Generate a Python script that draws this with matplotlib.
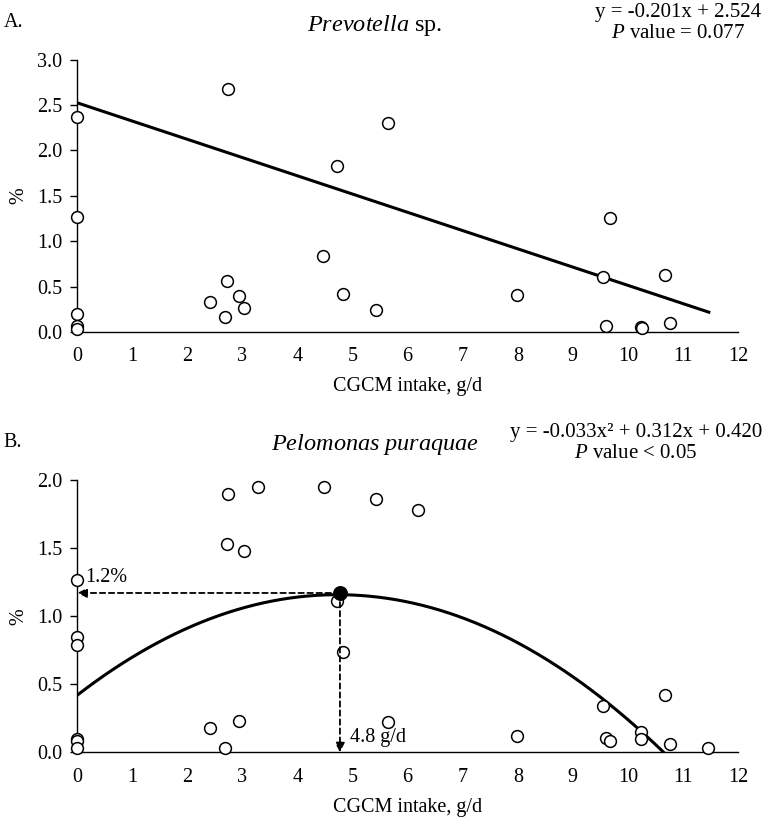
import numpy as np
import matplotlib.pyplot as plt

plt.rcParams["font.family"] = ["Liberation Serif", "DejaVu Serif"]
plt.rcParams["mathtext.fontset"] = "custom"
plt.rcParams["mathtext.rm"] = "Liberation Serif"
plt.rcParams["mathtext.it"] = "Liberation Serif:italic"

# Panel A: Prevotella sp.
prev_x = [0, 0, 0, 0, 0, 2.41, 2.71, 2.69, 2.93, 3.02, 2.73, 4.47, 4.72,
          4.82, 5.42, 5.64, 7.99, 9.55, 9.61, 9.68, 10.24, 10.25, 10.68, 10.76]
prev_y = [2.37, 1.27, 0.20, 0.07, 0.03, 0.33, 0.56, 0.165, 0.40, 0.26, 2.68,
          0.84, 1.83, 0.42, 0.24, 2.30, 0.41, 0.61, 0.07, 1.26, 0.05, 0.04,
          0.63, 0.095]
prev_coef = (-0.201, 2.524)
prev_xmax = 11.47

# Panel B: Pelomonas puraquae
pelo_x = [0, 0, 0, 0, 0, 0, 2.73, 3.29, 4.48, 5.42, 2.71, 3.02, 4.72, 6.19,
          2.41, 2.69, 2.93, 4.82, 5.64, 7.99, 9.55, 9.61, 9.68, 10.24, 10.23,
          10.68, 10.76, 11.46]
pelo_y = [1.265, 0.85, 0.79, 0.10, 0.08, 0.03, 1.90, 1.95, 1.95, 1.86, 1.53,
          1.48, 1.11, 1.78, 0.176, 0.03, 0.23, 0.74, 0.22, 0.12, 0.34, 0.107,
          0.083, 0.15, 0.095, 0.42, 0.063, 0.03]
pelo_coef = (-0.033, 0.312, 0.420)
pelo_xmax = 10.66
peak_x, peak_y = 4.77, 1.17

fig = plt.figure(figsize=(7.64, 8.19), dpi=100)
axA = fig.add_axes([0.1012, 0.5946, 0.8648, 0.3326])
axB = fig.add_axes([0.1012, 0.0814, 0.8648, 0.3326])


def style(ax, ymax):
    ax.set_xlim(0, 12)
    ax.set_ylim(0, ymax)
    ax.set_xticks(range(0, 13))
    ax.set_yticks(np.arange(0, ymax + 0.01, 0.5))
    ax.yaxis.set_major_formatter(plt.FormatStrFormatter("%.1f"))
    for s in ("top", "right"):
        ax.spines[s].set_visible(False)
    for s in ("left", "bottom"):
        ax.spines[s].set_linewidth(1.0)
    ax.tick_params(axis="x", length=0, pad=11, labelsize=14.5)
    ax.tick_params(axis="y", length=5, width=1, pad=6, labelsize=14.5)
    ax.set_xlabel("CGCM intake, g/d", fontsize=14.5, labelpad=8)
    ax.set_ylabel("%", fontsize=14.5, labelpad=6)


# Panel A
style(axA, 3.0)
axA.scatter(prev_x, prev_y, s=72, facecolors="white", edgecolors="black",
            linewidths=1.1, clip_on=False, zorder=3)
xa = np.linspace(0, prev_xmax, 50)
axA.plot(xa, np.polyval(prev_coef, xa), color="black", lw=2.2, zorder=2)

# Panel B
style(axB, 2.0)
axB.scatter(pelo_x, pelo_y, s=72, facecolors="white", edgecolors="black",
            linewidths=1.1, clip_on=False, zorder=3)
xb = np.linspace(0, pelo_xmax, 200)
axB.plot(xb, np.polyval(pelo_coef, xb), color="black", lw=2.2, zorder=2)
arrow = dict(arrowstyle="-|>", color="black", lw=1.3, ls=(0, (3, 2)),
             shrinkA=0, shrinkB=0, mutation_scale=14)
axB.annotate("", xy=(0, peak_y), xytext=(peak_x, peak_y), arrowprops=arrow,
             zorder=4, annotation_clip=False)
axB.annotate("", xy=(peak_x, 0), xytext=(peak_x, peak_y), arrowprops=arrow,
             zorder=4, annotation_clip=False)
axB.scatter([peak_x], [peak_y], s=95, color="black", zorder=5, clip_on=False)
axB.text(0.14, 1.28, "1.2%", fontsize=14.5, va="center", ha="left")
axB.text(4.95, 0.11, "4.8 g/d", fontsize=14.5, va="center", ha="left")

# Titles, panel letters, equations
fig.text(0.005, 0.972, "A.", fontsize=14.5, va="center", ha="left")
fig.text(0.491, 0.969, r"$\mathit{Prevotella}$ sp.", fontsize=17.5,
         va="center", ha="center")
fig.text(0.887, 0.972, "y = -0.201x + 2.524\n$\\mathit{P}$ value = 0.077",
         fontsize=15, va="center", ha="center", linespacing=1.1)

fig.text(0.005, 0.460, "B.", fontsize=14.5, va="center", ha="left")
fig.text(0.491, 0.457, r"$\mathit{Pelomonas\ puraquae}$", fontsize=17.5,
         va="center", ha="center")
fig.text(0.832, 0.459, "y = -0.033x\u00b2 + 0.312x + 0.420\n$\\mathit{P}$ value < 0.05",
         fontsize=15, va="center", ha="center", linespacing=1.1)

fig.savefig("out.png", dpi=100)
